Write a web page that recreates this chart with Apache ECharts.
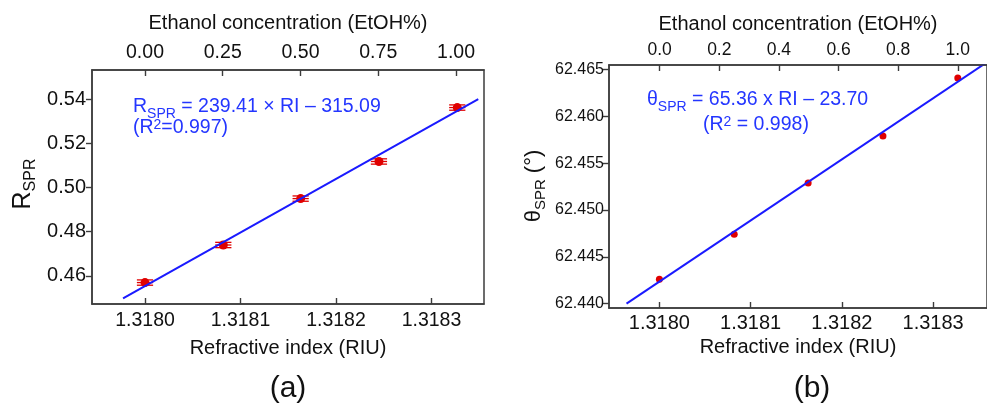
<!DOCTYPE html>
<html>
<head>
<meta charset="utf-8">
<script src="https://cdn.jsdelivr.net/npm/echarts@6.0.0/dist/echarts.min.js"></script>
<style>
  html, body { margin: 0; padding: 0; background: #fff; }
  #main { width: 987px; height: 409px; }
</style>
</head>
<body>
<div id="main"></div>
<script>
// refractive index of the 5 ethanol samples
var riValues = [1.318000, 1.318082, 1.318163, 1.318245, 1.318327];
// (a) reflectance at SPR
var rSpr = [0.4570, 0.4740, 0.4950, 0.5118, 0.5362];
var riErr = [0.0000085, 0.0000085, 0.0000085, 0.0000085, 0.0000085];
var rErr = [0.0012, 0.0012, 0.0012, 0.0012, 0.0012];
// (b) SPR angle
var thetaSpr = [62.4426, 62.4474, 62.4529, 62.4579, 62.4641];
// fit lines (end points)
var fitRiA = [1.317977, 1.318349];
var fitRA = [0.44986, 0.5400];
var fitRiB = [1.317964, 1.318359];
var fitThetaB = [62.4400, 62.4658];
// tick labels
var riTicks = [1.3180, 1.3181, 1.3182, 1.3183];
var etohTicksA = [0, 0.25, 0.5, 0.75, 1.0];
var etohTicksB = [0, 0.2, 0.4, 0.6, 0.8, 1.0];
var rTicks = [0.46, 0.48, 0.50, 0.52, 0.54];
var thetaTicks = [62.440, 62.445, 62.450, 62.455, 62.460, 62.465];

var FONT = 'Liberation Sans, Arial, Helvetica, sans-serif';
var RED = '#e00000';
var BLUE = '#1a1aff';
var TXTBLUE = '#2436ff';
var AXC = '#3c3c3c';

function zip(a, b) {
    var out = [];
    for (var i = 0; i < a.length; i++) out.push([a[i], b[i]]);
    return out;
}

function axisBase(grid, pos, min, max, ticks, fmt, fs, margin, tickIn) {
    return {
        type: 'value', gridIndex: grid, position: pos, min: min, max: max, scale: true, z: 10,
        axisLine: { show: true, onZero: false, lineStyle: { color: AXC, width: 1.5 } },
        axisTick: { show: true, inside: tickIn, length: 6, customValues: ticks, lineStyle: { color: AXC, width: 1.4 } },
        axisLabel: { show: true, customValues: ticks, margin: margin, color: '#111', fontFamily: FONT, fontSize: fs,
            formatter: function (v) { return fmt(v); } },
        splitLine: { show: false }
    };
}

var f4 = function (v) { return v.toFixed(4); };
var f2 = function (v) { return v.toFixed(2); };
var f1 = function (v) { return v.toFixed(1); };
var f3 = function (v) { return v.toFixed(3); };

var xa0 = axisBase(0, 'bottom', 1.3179445, 1.318355, riTicks, f4, 19.5, 7, true);
xa0.name = 'Refractive index (RIU)'; xa0.nameLocation = 'middle'; xa0.nameGap = 34;
xa0.nameTextStyle = { fontFamily: FONT, fontSize: 20, color: '#111' };
var xa1 = axisBase(0, 'top', -0.1704, 1.090, etohTicksA, f2, 19.5, 7, true);
xa1.name = 'Ethanol concentration (EtOH%)'; xa1.nameLocation = 'middle'; xa1.nameGap = 37;
xa1.nameTextStyle = { fontFamily: FONT, fontSize: 20, color: '#111' };
var xa2 = axisBase(1, 'bottom', 1.3179448, 1.318359, riTicks, f4, 20, 5, true);
xa2.name = 'Refractive index (RIU)'; xa2.nameLocation = 'middle'; xa2.nameGap = 29;
xa2.nameTextStyle = { fontFamily: FONT, fontSize: 20, color: '#111' };
var xa3 = axisBase(1, 'top', -0.170, 1.098, etohTicksB, f1, 17.5, 6, true);
xa3.name = 'Ethanol concentration (EtOH%)'; xa3.nameLocation = 'middle'; xa3.nameGap = 31;
xa3.nameTextStyle = { fontFamily: FONT, fontSize: 20, color: '#111' };

var ya0 = axisBase(0, 'left', 0.4473, 0.5532, rTicks, f2, 20, 6, false);
var ya1 = axisBase(1, 'left', 62.43953, 62.4655, thetaTicks, f3, 16, 5, false);

var errData = [];
for (var i = 0; i < riValues.length; i++) {
    errData.push([riValues[i], rSpr[i], riErr[i], rErr[i]]);
}

function renderErr(params, api) {
    var x = api.value(0), y = api.value(1), ex = api.value(2), ey = api.value(3);
    var l = api.coord([x - ex, y]);
    var r = api.coord([x + ex, y]);
    var up = api.coord([x, y + ey]);
    var dy = l[1] - up[1];
    var st = { stroke: RED, lineWidth: 1.3 };
    var kids = [];
    [-dy, 0, dy].forEach(function (d) {
        kids.push({ type: 'line', shape: { x1: l[0], y1: l[1] + d, x2: r[0], y2: r[1] + d }, style: st });
    });
    return { type: 'group', children: kids };
}

var node = document.getElementById('main');
var myChart = echarts.init(node, null, { renderer: 'canvas' });
myChart.setOption({
    animation: false,
    backgroundColor: '#fff',
    textStyle: { fontFamily: FONT },
    grid: [
        { left: 92, right: 503, top: 70, bottom: 105, show: true, z: 0, borderColor: AXC, borderWidth: 1.5 },
        { left: 609, right: -10, top: 65, bottom: 101, show: true, z: 0, borderColor: AXC, borderWidth: 1.5 }
    ],
    xAxis: [xa0, xa1, xa2, xa3],
    yAxis: [ya0, ya1],
    series: [
        {
            type: 'custom', xAxisIndex: 0, yAxisIndex: 0, renderItem: renderErr,
            data: errData, encode: { x: 0, y: 1 }, z: 2, silent: true
        },
        {
            type: 'scatter', xAxisIndex: 0, yAxisIndex: 0, data: zip(riValues, rSpr),
            symbolSize: 9, itemStyle: { color: RED, opacity: 1 }, z: 3
        },
        {
            type: 'line', xAxisIndex: 0, yAxisIndex: 0, data: zip(fitRiA, fitRA),
            symbol: 'none', lineStyle: { color: BLUE, width: 2 }, z: 4, clip: true
        },
        {
            type: 'scatter', xAxisIndex: 2, yAxisIndex: 1, data: zip(riValues, thetaSpr),
            symbolSize: 7, itemStyle: { color: RED, opacity: 1 }, z: 3
        },
        {
            type: 'line', xAxisIndex: 2, yAxisIndex: 1, data: zip(fitRiB, fitThetaB),
            symbol: 'none', lineStyle: { color: BLUE, width: 2 }, z: 4, clip: true
        }
    ],
    graphic: [
        // y axis titles
        {
            type: 'text', x: 23, y: 184, rotation: Math.PI / 2,
            style: {
                text: '{m|R}{s|SPR}', align: 'center', verticalAlign: 'middle', fill: '#111',
                rich: {
                    m: { fontFamily: FONT, fontSize: 25, lineHeight: 25, verticalAlign: 'top', fill: '#111' },
                    s: { fontFamily: FONT, fontSize: 16, lineHeight: 16, verticalAlign: 'top', padding: [12, 0, 0, 0], fill: '#111' }
                }
            }
        },
        {
            type: 'text', x: 534, y: 186, rotation: Math.PI / 2,
            style: {
                text: '{m|θ}{s|SPR}{m| (°)}', align: 'center', verticalAlign: 'middle', fill: '#111',
                rich: {
                    m: { fontFamily: FONT, fontSize: 22, lineHeight: 22, verticalAlign: 'top', fill: '#111' },
                    s: { fontFamily: FONT, fontSize: 15, lineHeight: 15, verticalAlign: 'top', padding: [10, 0, 0, 0], fill: '#111' }
                }
            }
        },
        // equations
        {
            type: 'text', x: 133, y: 97,
            style: {
                text: '{m|R}{s|SPR}{m| = 239.41 × RI – 315.09}', fill: TXTBLUE,
                rich: {
                    m: { fontFamily: FONT, fontSize: 19.5, lineHeight: 20, verticalAlign: 'top', fill: TXTBLUE },
                    s: { fontFamily: FONT, fontSize: 14, lineHeight: 14, verticalAlign: 'top', padding: [10, 0, 0, 0], fill: TXTBLUE }
                }
            }
        },
        {
            type: 'text', x: 133, y: 118,
            style: {
                text: '{m|(R}{p|2}{m|=0.997)}', fill: TXTBLUE,
                rich: {
                    m: { fontFamily: FONT, fontSize: 19.5, lineHeight: 20, verticalAlign: 'top', fill: TXTBLUE },
                    p: { fontFamily: FONT, fontSize: 14, lineHeight: 14, verticalAlign: 'top', padding: [0, 0, 6, 0], fill: TXTBLUE }
                }
            }
        },
        {
            type: 'text', x: 647, y: 90,
            style: {
                text: '{m|θ}{s|SPR}{m| = 65.36 x RI – 23.70}', fill: TXTBLUE,
                rich: {
                    m: { fontFamily: FONT, fontSize: 19.5, lineHeight: 20, verticalAlign: 'top', fill: TXTBLUE },
                    s: { fontFamily: FONT, fontSize: 14, lineHeight: 14, verticalAlign: 'top', padding: [10, 0, 0, 0], fill: TXTBLUE }
                }
            }
        },
        {
            type: 'text', x: 703, y: 115,
            style: {
                text: '{m|(R}{p|2}{m| = 0.998)}', fill: TXTBLUE,
                rich: {
                    m: { fontFamily: FONT, fontSize: 19.5, lineHeight: 20, verticalAlign: 'top', fill: TXTBLUE },
                    p: { fontFamily: FONT, fontSize: 14, lineHeight: 14, verticalAlign: 'top', padding: [0, 0, 6, 0], fill: TXTBLUE }
                }
            }
        },
        // panel labels
        {
            type: 'text', x: 288, y: 389,
            style: { text: '(a)', fontFamily: FONT, fontSize: 30, fill: '#111', align: 'center', verticalAlign: 'middle' }
        },
        {
            type: 'text', x: 812, y: 389,
            style: { text: '(b)', fontFamily: FONT, fontSize: 30, fill: '#111', align: 'center', verticalAlign: 'middle' }
        }
    ]
});
</script>
</body>
</html>
